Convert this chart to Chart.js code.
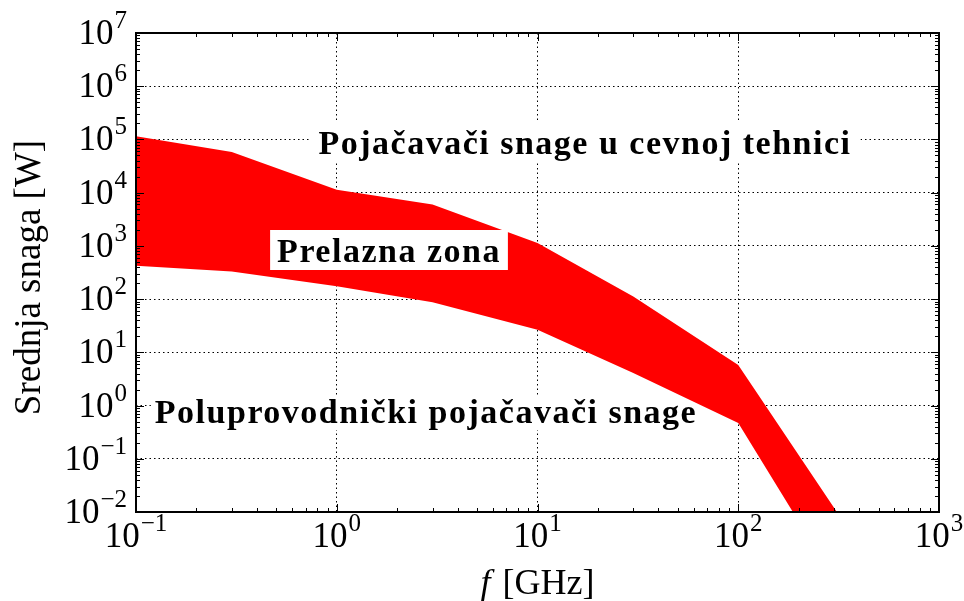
<!DOCTYPE html>
<html>
<head>
<meta charset="utf-8">
<script src="https://cdn.jsdelivr.net/npm/chart.js@4.4.1/dist/chart.umd.min.js"></script>
<style>
html,body{margin:0;padding:0;background:#fff;}
canvas{display:block;}
</style>
</head>
<body>
<canvas id="c" width="964" height="601"></canvas>
<script>
// ---- data ----
const freqGHz = [0.1, 0.3, 1, 3, 10, 30, 100, 310];
const upperW  = [1.15e5, 5.8e4, 1.14e4, 6.0e3, 1.13e3, 112, 5.8, 0.01];
const lowerW  = [424, 330, 174, 87, 26.5, 4.1, 0.47, 4.5e-4];
const xTickExps = [-1, 0, 1, 2, 3];
const yTickExps = [-2, -1, 0, 1, 2, 3, 4, 5, 6, 7];
const xTitleItalic = 'f';
const xTitleRest = '[GHz]';
const yTitle = 'Srednja snaga [W]';
const labelTube = 'Pojačavači snage u cevnoj tehnici';
const labelTransition = 'Prelazna zona';
const labelSemi = 'Poluprovodnički pojačavači snage';

const SERIF = '"Liberation Serif", "Times New Roman", serif';

function isMajor(v) {
  const l = Math.log10(v);
  return Math.abs(l - Math.round(l)) < 1e-9;
}
function buildLogTicks(exps) {
  return function (axis) {
    const t = [];
    for (let i = 0; i < exps.length; i++) {
      const e = exps[i];
      t.push({ value: Math.pow(10, e), major: true });
      if (i < exps.length - 1) {
        for (let m = 2; m <= 9; m++) t.push({ value: m * Math.pow(10, e), major: false });
      }
    }
    axis.ticks = t;
  };
}
const gridColor = (c) => (c.tick && isMajor(c.tick.value)) ? '#000' : 'rgba(0,0,0,0)';

function supText(e) { return e < 0 ? '\u2212' + Math.abs(e) : String(e); }

// annotation layout: centre x, baseline y, box padding, box drawn above the band?
const notes = [
  { text: labelTube,       cx: 585, base: 154, padX: 9, top: 33, bottom: 9, overBand: false },
  { text: labelTransition, cx: 389, base: 262, padX: 7, top: 32, bottom: 8, overBand: true },
  { text: labelSemi,       cx: 426, base: 423, padX: 4, top: 27, bottom: 7, overBand: false }
];
function noteFont(ctx) {
  ctx.font = 'bold 34px ' + SERIF;
  if ('letterSpacing' in ctx) ctx.letterSpacing = '1.5px';
}
function noteBox(ctx, n) {
  noteFont(ctx);
  const w = ctx.measureText(n.text).width;
  const left = n.cx - w / 2;
  if ('letterSpacing' in ctx) ctx.letterSpacing = '0px';
  return { left, w };
}

const decor = {
  id: 'decor',
  beforeDatasetsDraw(chart) {
    const ctx = chart.ctx;
    ctx.save();
    notes.filter(n => !n.overBand).forEach(n => {
      const b = noteBox(ctx, n);
      ctx.fillStyle = '#fff';
      ctx.fillRect(b.left - n.padX, n.base - n.top, b.w + 2 * n.padX, n.top + n.bottom);
    });
    ctx.restore();
  },
  afterDraw(chart) {
    const { ctx, chartArea: a, scales: { x, y } } = chart;
    ctx.save();
    // ticks (inward, all four sides)
    ctx.strokeStyle = '#000';
    ctx.lineWidth = 1;
    ctx.beginPath();
    x.ticks.forEach(t => {
      const px = Math.round(x.getPixelForValue(t.value)) + 0.5;
      const len = isMajor(t.value) ? 8 : 4;
      ctx.moveTo(px, a.bottom); ctx.lineTo(px, a.bottom - len);
      ctx.moveTo(px, a.top); ctx.lineTo(px, a.top + len);
    });
    y.ticks.forEach(t => {
      const py = Math.round(y.getPixelForValue(t.value)) + 0.5;
      const len = isMajor(t.value) ? 8 : 4;
      ctx.moveTo(a.left, py); ctx.lineTo(a.left + len, py);
      ctx.moveTo(a.right, py); ctx.lineTo(a.right - len, py);
    });
    ctx.stroke();
    // frame
    ctx.lineWidth = 2;
    ctx.strokeRect(a.left, a.top, a.right - a.left, a.bottom - a.top);

    // tick labels 10^n
    ctx.fillStyle = '#000';
    ctx.textBaseline = 'alphabetic';
    ctx.textAlign = 'left';
    const baseFont = '35px ' + SERIF;
    const expFont = '25px ' + SERIF;
    function powLabel(e) {
      ctx.font = baseFont; const wb = ctx.measureText('10').width;
      ctx.font = expFont; const we = ctx.measureText(supText(e)).width;
      return { wb, we, w: wb + we + 1 };
    }
    function drawPow(e, left, baseY) {
      const m = powLabel(e);
      ctx.font = baseFont; ctx.fillText('10', left, baseY);
      ctx.font = expFont; ctx.fillText(supText(e), left + m.wb + 1, baseY - 16);
    }
    xTickExps.forEach(e => {
      const px = x.getPixelForValue(Math.pow(10, e));
      const m = powLabel(e);
      drawPow(e, px - m.w / 2, a.bottom + 35);
    });
    yTickExps.forEach(e => {
      const py = y.getPixelForValue(Math.pow(10, e));
      const m = powLabel(e);
      drawPow(e, a.left - 9 - m.w, py + 11);
    });

    // axis titles
    ctx.font = 'italic 36px ' + SERIF;
    const wf = ctx.measureText(xTitleItalic).width;
    ctx.font = '36px ' + SERIF;
    const wr = ctx.measureText(xTitleRest).width;
    const gap = 12;
    const cx = (a.left + a.right) / 2;
    const sx = cx - (wf + gap + wr) / 2;
    ctx.font = 'italic 36px ' + SERIF;
    ctx.fillText(xTitleItalic, sx, 594);
    ctx.font = '36px ' + SERIF;
    ctx.fillText(xTitleRest, sx + wf + gap, 594);

    ctx.save();
    ctx.translate(40, (a.top + a.bottom) / 2 + 5);
    ctx.rotate(-Math.PI / 2);
    ctx.textAlign = 'center';
    ctx.font = '37px ' + SERIF;
    ctx.fillText(yTitle, 0, 0);
    ctx.restore();

    // annotations
    notes.forEach(n => {
      const b = noteBox(ctx, n);
      if (n.overBand) {
        ctx.fillStyle = '#fff';
        ctx.fillRect(b.left - n.padX, n.base - n.top, b.w + 2 * n.padX, n.top + n.bottom);
      }
      noteFont(ctx);
      ctx.fillStyle = '#000';
      ctx.textAlign = 'left';
      ctx.fillText(n.text, b.left, n.base);
      if ('letterSpacing' in ctx) ctx.letterSpacing = '0px';
    });
    ctx.restore();
  }
};

new Chart(document.getElementById('c'), {
  type: 'line',
  data: {
    datasets: [
      {
        label: 'upper',
        data: freqGHz.map((f, i) => ({ x: f, y: upperW[i] })),
        borderColor: 'rgba(0,0,0,0)',
        borderWidth: 0,
        backgroundColor: '#ff0000',
        pointRadius: 0,
        tension: 0,
        fill: '+1'
      },
      {
        label: 'lower',
        data: freqGHz.map((f, i) => ({ x: f, y: lowerW[i] })),
        borderColor: 'rgba(0,0,0,0)',
        borderWidth: 0,
        pointRadius: 0,
        tension: 0,
        fill: false
      }
    ]
  },
  options: {
    responsive: false,
    animation: false,
    devicePixelRatio: 1,
    layout: { padding: { left: 136, top: 33, right: 25, bottom: 89 } },
    plugins: { legend: { display: false }, tooltip: { enabled: false } },
    scales: {
      x: {
        type: 'logarithmic', min: 0.1, max: 1000,
        afterBuildTicks: buildLogTicks(xTickExps),
        ticks: { display: false },
        grid: { color: gridColor, lineWidth: 1, drawTicks: false },
        border: { display: false, dash: [1.5, 3] }
      },
      y: {
        type: 'logarithmic', min: 0.01, max: 1e7,
        afterBuildTicks: buildLogTicks(yTickExps),
        ticks: { display: false },
        grid: { color: gridColor, lineWidth: 1, drawTicks: false },
        border: { display: false, dash: [1.5, 3] }
      }
    }
  },
  plugins: [decor]
});
</script>
</body>
</html>
